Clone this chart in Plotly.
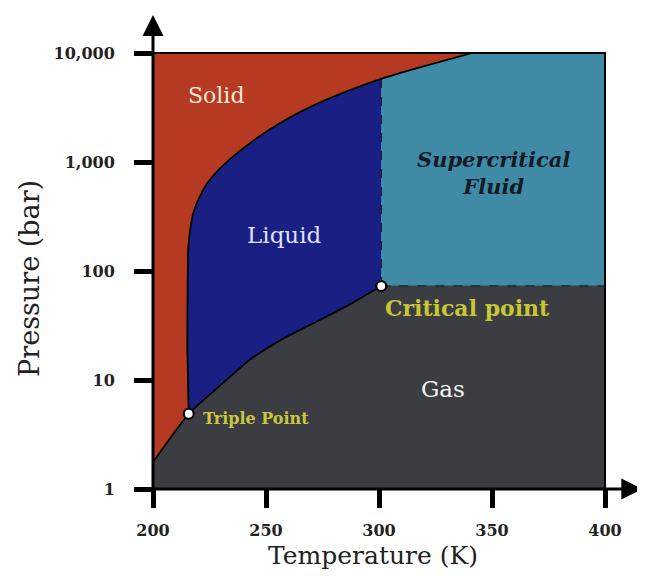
import plotly.graph_objects as go

# ---- axis limits / ticks ----
T_MIN, T_MAX = 200, 400
P_MIN, P_MAX = 1, 10000
x_ticks = [200, 250, 300, 350, 400]
y_ticks = [1, 10, 100, 1000, 10000]
y_ticktext = ["1", "10", "100", "1,000", "10,000"]

# ---- phase boundaries ----
sub_T = [200, 215.8]
sub_P = [1.77, 4.9]

vap_T = [215.8, 228.2, 243.1, 257.7, 272.7, 287.3, 301]
vap_P = [4.9, 8.35, 15.5, 24.1, 34.6, 49.7, 72.8]

melt_T = [215.8, 215.2, 215.3, 215.6, 216.5, 218.0, 220.9, 223.9, 228.3, 234.2,
          241.6, 248.8, 256.3, 265.2, 276.2, 289.5, 301, 319.6, 341.3]
melt_P = [4.9, 19, 68, 160, 244, 350, 491, 634, 817, 1069,
          1419, 1820, 2284, 2886, 3698, 4766, 5797, 7520, 10000]

triple_T, triple_P = 215.8, 4.9
crit_T, crit_P = 301, 72.8

# ---- labels ----
labels = ["Solid", "Liquid", "<b><i>Supercritical<br>Fluid</i></b>", "Gas",
          "<b>Critical point</b>", "<b>Triple Point</b>"]

C_SOLID = "#b63a22"
C_LIQUID = "#1a1f84"
C_SC = "#3f8ba6"
C_GAS = "#3c3c43"

ic = melt_T.index(crit_T)

fig = go.Figure()


def poly(x, y, color):
    fig.add_trace(go.Scatter(x=x, y=y, mode="lines", fill="toself", fillcolor=color,
                             line=dict(color=color, width=0.8), hoverinfo="skip",
                             showlegend=False))


# Solid
poly(sub_T + melt_T[1:] + [T_MIN], sub_P + melt_P[1:] + [P_MAX], C_SOLID)
# Liquid
poly(melt_T[:ic + 1] + vap_T[::-1], melt_P[:ic + 1] + vap_P[::-1], C_LIQUID)
# Supercritical
poly([crit_T, T_MAX, T_MAX] + melt_T[ic:][::-1], [crit_P, crit_P, P_MAX] + melt_P[ic:][::-1], C_SC)
# Gas
poly([T_MIN] + sub_T + vap_T[1:] + [T_MAX, T_MAX],
     [P_MIN] + sub_P + vap_P[1:] + [crit_P, P_MIN], C_GAS)

# dashed boundaries
fig.add_trace(go.Scatter(x=[crit_T, T_MAX], y=[crit_P, crit_P], mode="lines",
                         line=dict(color="#1e2a30", width=1.5, dash="dash"),
                         hoverinfo="skip", showlegend=False))
fig.add_trace(go.Scatter(x=[crit_T, crit_T], y=[crit_P, melt_P[ic]], mode="lines",
                         line=dict(color="#1a1f40", width=1.5, dash="dash"),
                         hoverinfo="skip", showlegend=False))

# solid boundaries
fig.add_trace(go.Scatter(x=sub_T + vap_T[1:], y=sub_P + vap_P[1:], mode="lines",
                         line=dict(color="black", width=1.8, shape="spline", smoothing=0.5),
                         hoverinfo="skip", showlegend=False))
fig.add_trace(go.Scatter(x=melt_T, y=melt_P, mode="lines",
                         line=dict(color="black", width=1.8, shape="spline", smoothing=0.5),
                         hoverinfo="skip", showlegend=False))

# points
fig.add_trace(go.Scatter(x=[triple_T, crit_T], y=[triple_P, crit_P], mode="markers",
                         marker=dict(size=10, color="white", line=dict(color="black", width=2.2)),
                         hoverinfo="skip", showlegend=False))

SERIF = "DejaVu Serif"

ann = []
# region labels (y in log10 units)
ann.append(dict(x=228, y=3.608, text=labels[0], showarrow=False,
                font=dict(family=SERIF, size=22, color="#f6e6d6")))
ann.append(dict(x=258, y=2.332, text=labels[1], showarrow=False,
                font=dict(family=SERIF, size=23, color="#dfe0ff")))
ann.append(dict(x=350.6, y=2.903, text=labels[2], showarrow=False,
                font=dict(family=SERIF, size=21, color="#151a26"), align="center"))
ann.append(dict(x=328.5, y=0.922, text=labels[3], showarrow=False,
                font=dict(family=SERIF, size=23, color="#f2f2f2")))
ann.append(dict(x=301.9, y=1.659, text=labels[4], showarrow=False, xanchor="left",
                font=dict(family=SERIF, size=22, color="#c8c832")))
ann.append(dict(x=221.2, y=0.645, text=labels[5], showarrow=False, xanchor="left",
                font=dict(family=SERIF, size=16, color="#c8c83a")))

# axis titles
ann.append(dict(xref="x domain", yref="y domain", x=0.487, y=-0.153, xanchor="center",
                yanchor="middle", text="Temperature (K)", showarrow=False,
                font=dict(family=SERIF, size=25, color="#222")))
ann.append(dict(xref="x domain", yref="y domain", x=-0.272, y=0.482, xanchor="center",
                yanchor="middle", text="Pressure (bar)", textangle=-90, showarrow=False,
                font=dict(family=SERIF, size=27, color="#222")))

# axis arrows
ann.append(dict(xref="x domain", yref="y domain", x=0, y=1.087, ax=0, ay=483, text="",
                showarrow=True, arrowhead=2, arrowsize=1.4, arrowwidth=3, arrowcolor="black",
                standoff=0, startstandoff=0))
ann.append(dict(xref="x domain", yref="y domain", x=1.0825, y=0, ax=-502, ay=0, text="",
                showarrow=True, arrowhead=2, arrowsize=1.4, arrowwidth=3, arrowcolor="black",
                standoff=0, startstandoff=0))

fig.update_layout(
    width=645, height=582,
    margin=dict(l=145, r=48, t=45, b=101),
    paper_bgcolor="white", plot_bgcolor="white",
    showlegend=False,
    annotations=ann,
    shapes=[dict(type="rect", xref="x domain", yref="y domain", x0=0, x1=1, y0=0, y1=1,
                 line=dict(color="black", width=2), layer="above")],
    xaxis=dict(range=[T_MIN, T_MAX], tickvals=x_ticks, showgrid=False, zeroline=False,
               showline=False, ticks="outside", ticklen=18, tickwidth=5, tickcolor="black",
               ticklabelstandoff=9,
               tickfont=dict(family=SERIF, size=16, color="#222", weight="bold")),
    yaxis=dict(type="log", range=[0, 4], tickvals=y_ticks, ticktext=y_ticktext,
               showgrid=False, zeroline=False, showline=False, ticks="outside",
               ticklen=18, tickwidth=5, tickcolor="black", ticklabelstandoff=16,
               tickfont=dict(family=SERIF, size=16, color="#222", weight="bold")),
)

fig.write_html("out.html")
